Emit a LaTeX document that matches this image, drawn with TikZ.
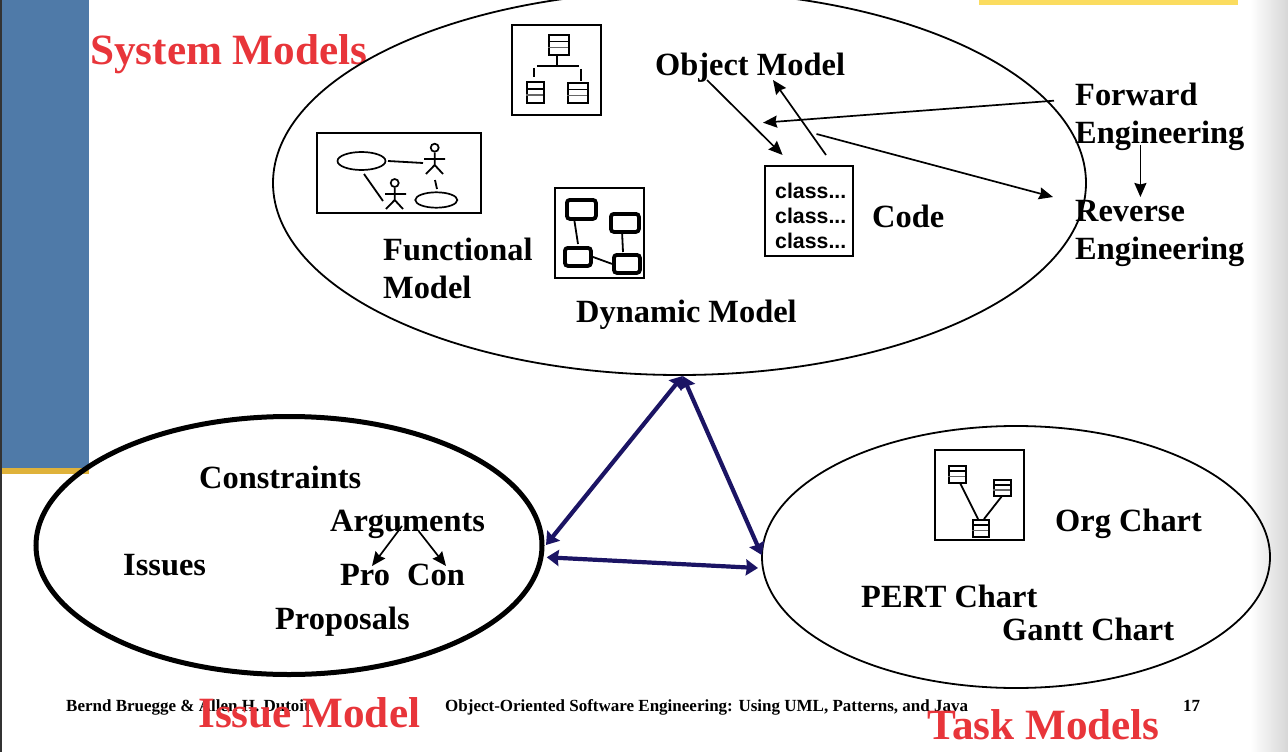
\documentclass[tikz,border=0pt]{standalone}
\usepackage{fontspec}
\setmainfont{Liberation Serif}
\newfontfamily\iconfont{Liberation Sans}
\usetikzlibrary{shapes.geometric,arrows.meta}
\definecolor{slideblue}{HTML}{4F7AA8}
\definecolor{slidegold}{HTML}{DFB23A}
\definecolor{slideyellow}{HTML}{FBDC5F}
\definecolor{titlered}{HTML}{E8353A}
\definecolor{navy}{HTML}{1B1464}
\tikzset{
  x=1pt,y=-1pt,
  txt/.style={anchor=base west,inner sep=0,font=\fontsize{32.4}{33}\selectfont\bfseries},
  redtxt/.style={anchor=base west,inner sep=0,text=titlered,font=\fontsize{43.2}{44}\selectfont\bfseries},
  foot/.style={anchor=base west,inner sep=0,font=\fontsize{17}{18}\selectfont\bfseries},
  classtxt/.style={anchor=base west,inner sep=0,font=\fontsize{21.3}{22}\selectfont\iconfont\bfseries},
  bubble/.style={shape=ellipse,draw=black,inner sep=0,line width=1.8pt},
  thin arrow/.style={line width=1.7pt,-{Stealth[length=14pt,width=12pt,inset=1.5pt]}},
  navy arrow/.style={draw=navy,line width=4.2pt,{Stealth[length=12pt,width=16pt,inset=1pt]}-{Stealth[length=12pt,width=16pt,inset=1pt]}},
  iconbox/.style={draw=black,line width=2pt,inner sep=0},
  iconline/.style={line width=1.8pt},
  stateicon/.style={draw=black,line width=3.8pt,rounded corners=3pt,inner sep=0},
  classicon/.style={draw=black,line width=2pt,inner sep=0},
}
\newcommand{\classglyph}[5]{%
  \node[classicon,minimum width=#3-#1,minimum height=#4-#2,anchor=north west] (#5) at (#1,#2) {};
  \draw[line width=1.6pt] (#1,{#2+(#4-#2)*0.37}) -- (#3,{#2+(#4-#2)*0.37});
  \draw[line width=1.6pt,black!60] (#1,{#2+(#4-#2)*0.68}) -- (#3,{#2+(#4-#2)*0.68});
}
\begin{document}
\begin{tikzpicture}
\clip (0,0) rectangle (1288,752);
\fill[white] (0,0) rectangle (1288,752);
% slide decoration
\shade[left color=white,right color=black!16] (1250,0) rectangle (1288,752);
\fill[slideblue] (0,0) rectangle (89,468);
\fill[slidegold] (0,468) rectangle (89,474);
\fill[black!80] (0,0) rectangle (2,752);
\fill[slideyellow] (979,0) rectangle (1238,5);
% titles and footer
\node[foot] (f1) at (66,711) {Bernd Bruegge \& Allen H. Dutoit};
\node[foot] (f2) at (445,711) {Object-Oriented Software Engineering: Using UML, Patterns, and Java};
\node[foot] (f3) at (1183,711) {17};
\node[redtxt] (t1) at (90,65) {System Models};
\node[redtxt] (t2) at (198,727) {Issue Model};
\node[redtxt] (t3) at (927,739) {Task Models};
% bubbles
\node[bubble,minimum width=813pt,minimum height=384pt] (sys) at (679.5,183) {};
\node[bubble,line width=5pt,minimum width=506pt,minimum height=258pt] (iss) at (289,545.5) {};
\node[bubble,minimum width=508pt,minimum height=262pt] (tsk) at (1016,557) {};
% object model icon
\node[iconbox,minimum width=89pt,minimum height=90pt,anchor=north west] (objbox) at (511,24) {};
\classglyph{548}{34}{568}{54}{oc1}
\classglyph{526}{81}{543}{102}{oc2}
\classglyph{567}{82}{587}{102}{oc3}
\coordinate (ot1) at (557,55); \coordinate (ot2) at (557,66);
\coordinate (oh1) at (537,66); \coordinate (oh2) at (579,66);
\coordinate (ol1) at (534,68); \coordinate (ol2) at (534,77);
\coordinate (or1) at (581,69); \coordinate (or2) at (581,81);
\draw[iconline] (ot1) -- (ot2);
\draw[iconline] (oh1) -- (oh2);
\draw[iconline] (ol1) -- (ol2);
\draw[iconline] (or1) -- (or2);
% functional model icon
\node[iconbox,minimum width=164pt,minimum height=80pt,anchor=north west] (funbox) at (316,132) {};
\node[ellipse,draw,line width=1.7pt,inner sep=0,minimum width=48pt,minimum height=18pt] (uc1) at (361.5,161) {};
\node[ellipse,draw,line width=1.7pt,inner sep=0,minimum width=42pt,minimum height=15.4pt] (uc2) at (436.3,200) {};
\node[circle,draw,line width=1.7pt,inner sep=0,minimum size=8pt] (a1) at (434.7,147.7) {};
\node[circle,draw,line width=1.7pt,inner sep=0,minimum size=8pt] (a2) at (394.7,183) {};
\coordinate (a1b) at (434.7,165); \coordinate (a1l) at (424,159); \coordinate (a1r) at (445,159);
\coordinate (a1f) at (426,174); \coordinate (a1g) at (443,174);
\coordinate (a2b) at (394.7,200); \coordinate (a2l) at (385,194); \coordinate (a2r) at (406,194);
\coordinate (a2f) at (386,209); \coordinate (a2g) at (403,209);
\draw[iconline] (a1.south) -- (a1b) (a1l) -- (a1r) (a1f) -- (a1b) -- (a1g);
\draw[iconline] (a2.south) -- (a2b) (a2l) -- (a2r) (a2f) -- (a2b) -- (a2g);
\coordinate (l1a) at (388,161); \coordinate (l1b) at (423,163);
\coordinate (l2a) at (435,180); \coordinate (l2b) at (437,189);
\coordinate (l3a) at (364,174); \coordinate (l3b) at (383,201);
\draw[iconline] (l1a) -- (l1b);
\draw[iconline] (l2a) -- (l2b);
\draw[iconline] (l3a) -- (l3b);
% dynamic model icon
\node[iconbox,minimum width=89pt,minimum height=90pt,anchor=north west] (dynbox) at (554,187) {};
\node[stateicon,minimum width=29pt,minimum height=19pt,anchor=north west] (sa) at (565,198) {};
\node[stateicon,minimum width=28pt,minimum height=18pt,anchor=north west] (sb) at (609,212) {};
\node[stateicon,minimum width=26pt,minimum height=18pt,anchor=north west] (sc) at (563,246) {};
\node[stateicon,minimum width=26pt,minimum height=18pt,anchor=north west] (sd) at (612,253) {};
\draw[iconline] (574,218) -- (578,244);
\draw[iconline] (622,231) -- (623,252);
\draw[iconline] (sc.east) -- (sd.west);
% code icon
\node[iconbox,minimum width=88pt,minimum height=90pt,anchor=north west] (codebox) at (764,165) {};
\node[classtxt] (c1) at (775,198) {class...};
\node[classtxt] (c2) at (775,223) {class...};
\node[classtxt] (c3) at (775,248) {class...};
% labels
\node[txt] (objm) at (655,76) {Object Model};
\node[txt] (fwd) at (1075,105) {Forward};
\node[txt] (fwde) at (1075,143) {Engineering};
\node[txt] (rev) at (1075,221) {Reverse};
\node[txt] (reve) at (1075,259) {Engineering};
\node[txt] (code) at (872,227) {Code};
\node[txt] (func) at (383,260) {Functional};
\node[txt] (funcm) at (383,298) {Model};
\node[txt] (dyn) at (576,322) {Dynamic Model};
\node[txt] (cons) at (199,488) {Constraints};
\node[txt] (args) at (330,531) {Arguments};
\node[txt] (issu) at (123,575) {Issues};
\node[txt] (pro) at (340,585) {Pro};
\node[txt] (con) at (407,585) {Con};
\node[txt] (prop) at (275,629) {Proposals};
\node[txt] (org) at (1055,531) {Org Chart};
\node[txt] (pert) at (861,607) {PERT Chart};
\node[txt] (gantt) at (1002,640) {Gantt Chart};
% org chart icon
\node[iconbox,minimum width=89pt,minimum height=90pt,anchor=north west] (orgbox) at (934,449) {};
\classglyph{948}{465}{965}{482}{p1}
\classglyph{993}{479}{1010}{495}{p2}
\classglyph{972}{519}{988}{536}{p3}
\draw[iconline] (960,483) -- (978,519);
\draw[iconline] (1002,496) -- (984,519);
% black arrows
\coordinate (ar1a) at (707,80);    \coordinate (ar1b) at (782.6,155);
\coordinate (ar2a) at (826,155);   \coordinate (ar2b) at (773,80);
\coordinate (ar3a) at (1054,100.7);\coordinate (ar3b) at (763,122.7);
\coordinate (ar4a) at (816.5,134); \coordinate (ar4b) at (1053,197);
\coordinate (ar5a) at (1140.4,145);\coordinate (ar5b) at (1140.4,197);
\coordinate (ar6a) at (402,526);   \coordinate (ar6b) at (372,566);
\coordinate (ar7a) at (418.6,531); \coordinate (ar7b) at (446,566);
\draw[thin arrow] (ar1a) -- (ar1b);
\draw[thin arrow] (ar2a) -- (ar2b);
\draw[thin arrow] (ar3a) -- (ar3b);
\draw[thin arrow] (ar4a) -- (ar4b);
\draw[thin arrow] (ar5a) -- (ar5b);
\draw[thin arrow] (ar6a) -- (ar6b);
\draw[thin arrow] (ar7a) -- (ar7b);
% navy arrows
\coordinate (apex) at (682.7,376);
\coordinate (issr) at (546,545);
\coordinate (tskl) at (761.7,555);
\coordinate (issb) at (546.7,557.3);
\coordinate (tskb) at (758,568);
\draw[navy arrow] (apex) -- (issr);
\draw[navy arrow] (apex) -- (tskl);
\draw[navy arrow] (issb) -- (tskb);
\end{tikzpicture}
\end{document}
